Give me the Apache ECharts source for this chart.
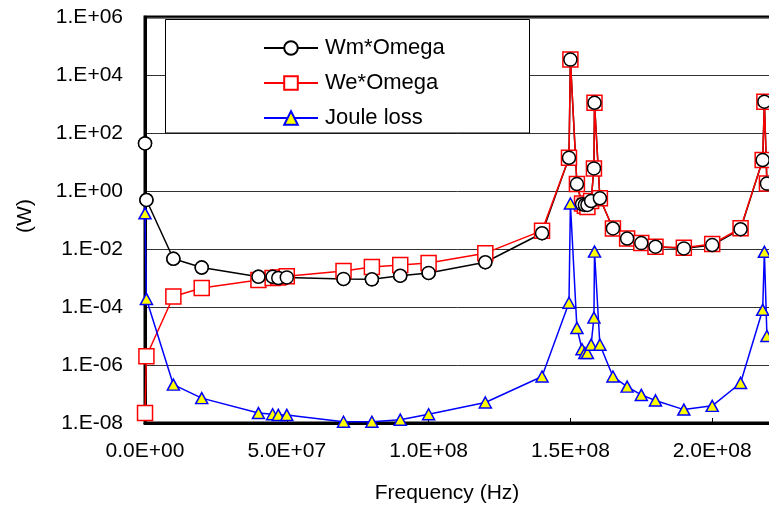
<!DOCTYPE html>
<html>
<head>
<meta charset="utf-8">
<script src="https://cdn.jsdelivr.net/npm/echarts@6/dist/echarts.min.js"></script>
<style>
html,body{margin:0;padding:0;background:#fff;}
#chart{width:769px;height:508px;}
</style>
</head>
<body>
<div id="chart"></div>
<script>
// Frequency (Hz)
const freq = [1e4, 5e5, 1e7, 2e7, 4e7, 4.5e7, 4.7e7, 5e7, 7e7, 8e7, 9e7, 1e8, 1.2e8, 1.4e8,
  1.495e8, 1.5e8, 1.523e8, 1.541e8, 1.551e8, 1.56e8, 1.573e8, 1.583e8, 1.585e8, 1.604e8,
  1.65e8, 1.7e8, 1.75e8, 1.8e8, 1.9e8, 2.0e8, 2.1e8, 2.178e8, 2.184e8, 2.193e8];
const wmOmega = [43.7, 0.49, 4.6e-3, 2.3e-3, 1.1e-3, 1.1e-3, 1.0e-3, 1.05e-3, 9.3e-4, 9e-4, 1.2e-3, 1.5e-3, 3.5e-3, 0.035,
  14, 3.4e4, 1.74, 0.35, 0.33, 0.33, 0.45, 6.0, 1100, 0.56,
  0.051, 0.023, 0.016, 0.012, 0.0105, 0.0137, 0.048, 11.7, 1200, 1.8];
const weOmega = [2.2e-8, 2e-6, 2.3e-4, 4.5e-4, 8.6e-4, 1.0e-3, 1.05e-3, 1.15e-3, 1.75e-3, 2.4e-3, 2.8e-3, 3.3e-3, 7.2e-3, 0.043,
  14, 3.4e4, 1.74, 0.37, 0.31, 0.28, 0.45, 6.0, 1100, 0.56,
  0.051, 0.023, 0.016, 0.012, 0.011, 0.0148, 0.052, 11.7, 1200, 1.8];
const jouleLoss = [0.17, 1.9e-4, 2.1e-7, 7.2e-8, 2.2e-8, 2e-8, 1.9e-8, 1.9e-8, 1.1e-8, 1.1e-8, 1.3e-8, 2e-8, 5.1e-8, 4e-7,
  1.4e-4, 0.37, 1.9e-5, 3.5e-6, 2.6e-6, 2.6e-6, 5e-6, 4.3e-5, 8.1e-3, 5e-6,
  4e-7, 1.8e-7, 9.3e-8, 6e-8, 2.9e-8, 3.9e-8, 2.4e-7, 8e-5, 8e-3, 1e-5];
const seriesNames = ['Wm*Omega', 'We*Omega', 'Joule loss'];
const xTitle = 'Frequency (Hz)';
const yTitle = '(W)';

function pairs(ys) { return freq.map((f, i) => [f, ys[i]]); }
function pad2(n) { return (n < 10 ? '0' : '') + n; }
function xFmt(v) {
  if (v === 0) return '0.0E+00';
  const e = Math.floor(Math.log10(v) + 1e-9);
  const m = v / Math.pow(10, e);
  return m.toFixed(1) + 'E' + (e >= 0 ? '+' : '-') + pad2(Math.abs(e));
}
function yFmt(v) {
  const e = Math.round(Math.log10(v));
  return '1.E' + (e >= 0 ? '+' : '-') + pad2(Math.abs(e));
}

const FONT = '"Liberation Sans", Arial, sans-serif';
const chart = echarts.init(document.getElementById('chart'), null, {renderer: 'canvas'});
chart.setOption({
  animation: false,
  backgroundColor: '#fff',
  grid: {left: 145, top: 17, width: 709, height: 406, outerBoundsMode: 'none', containLabel: false,
    show: true, borderColor: '#000', borderWidth: 3, backgroundColor: 'transparent'},
  xAxis: {
    type: 'value', min: 0, max: 2.5e8, interval: 5e7,
    axisLine: {lineStyle: {color: '#000', width: 3}},
    axisTick: {show: true, inside: true, length: 5, lineStyle: {color: '#000', width: 1}},
    splitLine: {show: false},
    axisLabel: {formatter: xFmt, color: '#000', fontSize: 21, fontFamily: FONT, margin: 18}
  },
  yAxis: {
    type: 'log', logBase: 10, min: 1e-8, max: 1e6, interval: 2,
    axisLine: {show: true, lineStyle: {color: '#000', width: 3}},
    axisTick: {show: false},
    splitLine: {show: true, lineStyle: {color: '#333', width: 1}},
    minorTick: {show: false}, minorSplitLine: {show: false},
    axisLabel: {formatter: yFmt, color: '#000', fontSize: 21, fontFamily: FONT, margin: 22}
  },
  legend: {
    data: seriesNames, orient: 'vertical', left: 258, top: 32,
    itemWidth: 54, itemHeight: 17, itemGap: 13, z: 20,
    textStyle: {fontSize: 22, fontFamily: FONT, color: '#000', padding: [0, 0, 0, 2]}
  },
  graphic: [
    {type: 'rect', z: 10, shape: {x: 165.5, y: 19.5, width: 364, height: 113.5}, style: {fill: '#fff', stroke: '#000', lineWidth: 1}},
    {type: 'text', z: 10, x: 447, y: 493, style: {text: xTitle, textAlign: 'center', textVerticalAlign: 'middle', font: '21px ' + FONT, fill: '#000'}},
    {type: 'text', z: 10, rotation: Math.PI / 2, x: 25, y: 216, style: {text: yTitle, textAlign: 'center', textVerticalAlign: 'middle', font: '21px ' + FONT, fill: '#000'}}
  ],
  series: [
    {name: 'Wm*Omega', type: 'line', data: pairs(wmOmega), z: 2,
      symbol: 'circle', symbolSize: 13, showAllSymbol: true,
      lineStyle: {color: '#000', width: 1.5}, itemStyle: {color: '#fff', borderColor: '#000', borderWidth: 1.5}},
    {name: 'We*Omega', type: 'line', data: pairs(weOmega), z: 3,
      symbol: 'rect', symbolSize: 15, showAllSymbol: true,
      lineStyle: {color: '#ff0000', width: 1.5}, itemStyle: {color: '#fff', borderColor: '#ff0000', borderWidth: 1.5}},
    {name: '_wmMarkers', type: 'line', data: pairs(wmOmega), z: 4,
      symbol: 'circle', symbolSize: 13, showAllSymbol: true,
      lineStyle: {opacity: 0, width: 0}, itemStyle: {color: '#fff', borderColor: '#000', borderWidth: 1.5}},
    {name: 'Joule loss', type: 'line', data: pairs(jouleLoss), z: 5,
      symbol: 'triangle', symbolSize: [12, 11], showAllSymbol: true,
      lineStyle: {color: '#0000ff', width: 1.5}, itemStyle: {color: '#ffff00', borderColor: '#0000ff', borderWidth: 1.5}}
  ]
});
</script>
</body>
</html>
